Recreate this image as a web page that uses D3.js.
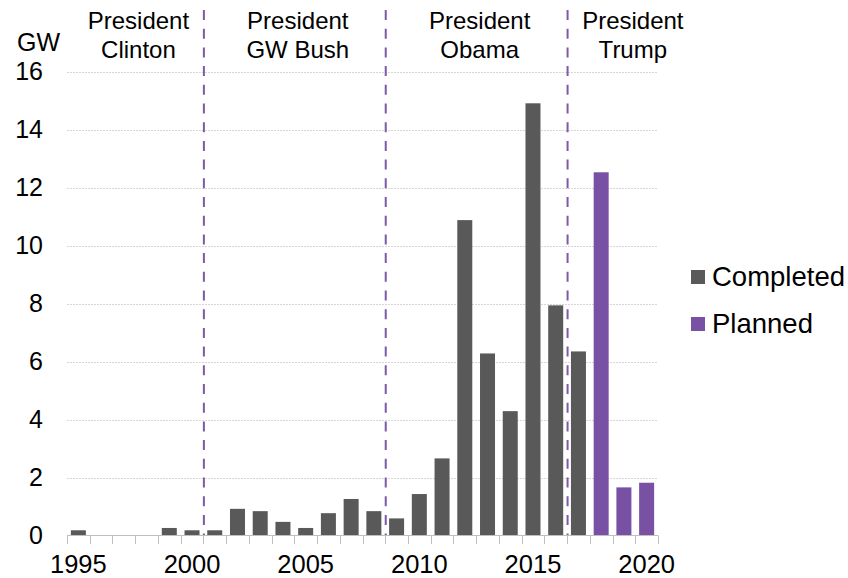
<!DOCTYPE html>
<html>
<head>
<meta charset="utf-8">
<script src="https://cdn.jsdelivr.net/npm/d3@7"></script>
<style>
  html, body { margin: 0; padding: 0; background: #ffffff; }
  svg { display: block; font-family: "Liberation Sans", Arial, sans-serif; }
</style>
</head>
<body>
<svg id="chart" width="848" height="578"></svg>
<script>
// Capacity by year, GW
const years = d3.range(1995, 2021);
const completed = [0.18, 0, 0, 0, 0.26, 0.18, 0.18, 0.92, 0.84, 0.47, 0.26, 0.77, 1.26, 0.84,
                   0.59, 1.43, 2.66, 10.88, 6.28, 4.29, 14.91, 7.94, 6.35, null, null, null];
const planned   = [null, null, null, null, null, null, null, null, null, null, null, null, null, null,
                   null, null, null, null, null, null, null, null, null, 12.53, 1.66, 1.82];
const yTicks = [0, 2, 4, 6, 8, 10, 12, 14, 16];
const xTickLabels = [1995, 2000, 2005, 2010, 2015, 2020];
const seriesNames = ["Completed", "Planned"];
const seriesColors = ["#595959", "#7851a4"];

// Presidential terms and the years before which a divider is drawn
const termLabels = [["President", "Clinton"], ["President", "GW Bush"], ["President", "Obama"], ["President", "Trump"]];
const termBoundaries = [2001, 2009, 2017];

const svg = d3.select("#chart");

const x = d3.scaleBand()
  .domain(years)
  .range([67, 658])
  .paddingInner(0.34)
  .paddingOuter(0.17);

const y = d3.scaleLinear()
  .domain([0, 16])
  .range([535.5, 71.7]);

// Horizontal gridlines
svg.append("g")
  .selectAll("line")
  .data(yTicks.filter(d => d > 0))
  .join("line")
  .attr("x1", 67).attr("x2", 658)
  .attr("y1", d => Math.round(y(d)) + 0.5)
  .attr("y2", d => Math.round(y(d)) + 0.5)
  .attr("stroke", "#d6d6d6")
  .attr("stroke-width", 1)
  .attr("stroke-dasharray", "2,1");

// Y axis labels
svg.append("g")
  .selectAll("text")
  .data(yTicks)
  .join("text")
  .attr("x", 43)
  .attr("y", d => y(d))
  .attr("dy", "0.35em")
  .attr("text-anchor", "end")
  .attr("font-size", 25)
  .attr("fill", "#000")
  .text(d => d);

svg.append("text")
  .attr("x", 17).attr("y", 51)
  .attr("font-size", 25)
  .attr("fill", "#000")
  .text("GW");

// Bars
const barData = years.map((yr, i) => ({ year: yr, completed: completed[i], planned: planned[i] }));

svg.append("g")
  .selectAll("rect")
  .data(barData.filter(d => d.completed))
  .join("rect")
  .attr("x", d => x(d.year))
  .attr("width", x.bandwidth())
  .attr("y", d => y(d.completed))
  .attr("height", d => y(0) - y(d.completed))
  .attr("fill", seriesColors[0]);

svg.append("g")
  .selectAll("rect")
  .data(barData.filter(d => d.planned))
  .join("rect")
  .attr("x", d => x(d.year))
  .attr("width", x.bandwidth())
  .attr("y", d => y(d.planned))
  .attr("height", d => y(0) - y(d.planned))
  .attr("fill", seriesColors[1]);

// X axis line and category ticks
const step = x.step();
const axisG = svg.append("g");
axisG.append("line")
  .attr("x1", 67).attr("x2", 658)
  .attr("y1", 535.5).attr("y2", 535.5)
  .attr("stroke", "#bfbfbf").attr("stroke-width", 1);
axisG.selectAll("line.tick")
  .data(d3.range(years.length + 1))
  .join("line")
  .attr("class", "tick")
  .attr("x1", i => Math.round(67 + i * step) + 0.5)
  .attr("x2", i => Math.round(67 + i * step) + 0.5)
  .attr("y1", 535.5).attr("y2", 544)
  .attr("stroke", "#bfbfbf").attr("stroke-width", 1);

axisG.selectAll("text")
  .data(xTickLabels)
  .join("text")
  .attr("x", d => x(d) + x.bandwidth() / 2)
  .attr("y", 572.5)
  .attr("text-anchor", "middle")
  .attr("font-size", 25.5)
  .attr("fill", "#000")
  .text(d => d);

// Term dividers
const dividerX = yr => x(yr) - (step - x.bandwidth()) / 2 + 0.5;
svg.append("g")
  .selectAll("line")
  .data(termBoundaries)
  .join("line")
  .attr("x1", d => dividerX(d))
  .attr("x2", d => dividerX(d))
  .attr("y1", 10).attr("y2", 535)
  .attr("stroke", "#7b5aa6")
  .attr("stroke-width", 2)
  .attr("stroke-dasharray", "10,8.7");

// Term labels, centred between dividers (last term runs past the axis end)
const edges = [67, ...termBoundaries.map(dividerX), 658 + 1.5 * step];
const termCenters = termLabels.map((_, i) => (edges[i] + edges[i + 1]) / 2 + 3);
const termG = svg.append("g");
termLabels.forEach((lines, i) => {
  const t = termG.append("text")
    .attr("text-anchor", "middle")
    .attr("font-size", 24)
    .attr("fill", "#000");
  lines.forEach((ln, j) => {
    t.append("tspan")
      .attr("x", termCenters[i])
      .attr("y", 29 + j * 29)
      .text(ln);
  });
});

// Legend
const legend = svg.append("g");
seriesNames.forEach((name, i) => {
  const gy = 270 + i * 47;
  legend.append("rect")
    .attr("x", 691).attr("y", gy)
    .attr("width", 14).attr("height", 14)
    .attr("fill", seriesColors[i]);
  legend.append("text")
    .attr("x", 712).attr("y", gy + 16)
    .attr("font-size", 27.5)
    .attr("fill", "#000")
    .text(name);
});
</script>
</body>
</html>
